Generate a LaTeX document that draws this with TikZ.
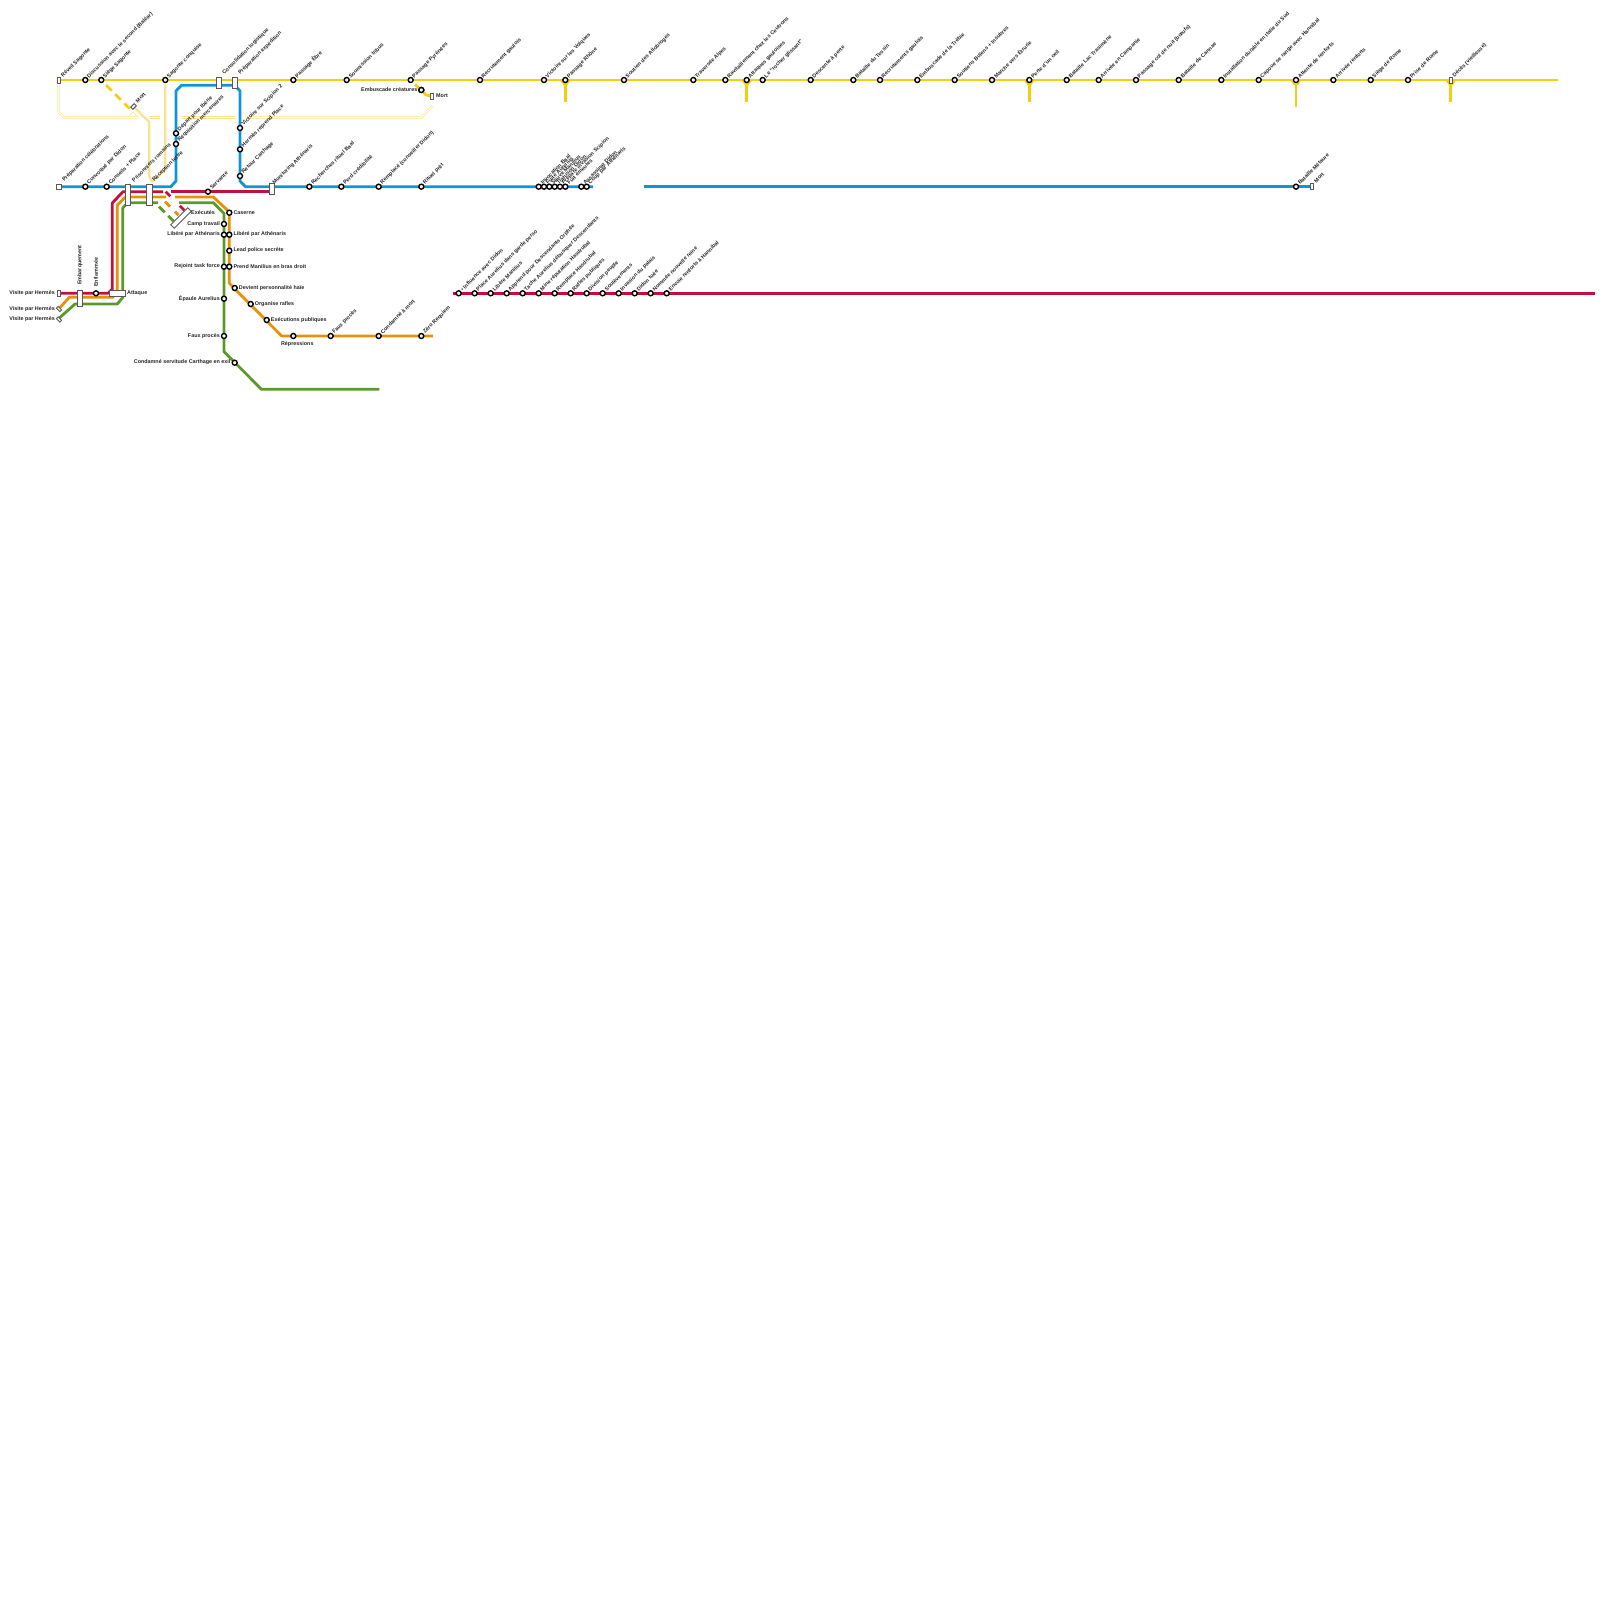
\documentclass[tikz,border=0pt]{standalone}
\usepackage{fontspec}
\setmainfont{Liberation Sans}
\usetikzlibrary{positioning}

\definecolor{lineyellow}{HTML}{F5CF0F}
\definecolor{lineblue}{HTML}{0F95D6}
\definecolor{linered}{HTML}{C20F3F}
\definecolor{lineorange}{HTML}{E8900A}
\definecolor{linegreen}{HTML}{5A9A28}
\definecolor{linepale}{HTML}{F8E48E}

\tikzset{
	x=1pt, y=-1pt,
	track/.style={line width=2.8pt, line join=round},
	ghost/.style={line width=2.2pt, color=linepale, line join=round},
	ghostdouble/.style={line width=0.7pt, color=linepale, double=white, double distance=1.1pt, line join=round},
	stop/.style={circle, draw=black, fill=white, line width=1.4pt, inner sep=0pt, minimum size=5pt},
	hub/.style={rectangle, draw=black!65, fill=white, line width=0.9pt, inner sep=0pt},
	tag/.style={font=\fontsize{5.4}{5.4}\selectfont\bfseries, text=black!85, inner sep=0pt},
	tagup/.style={tag, anchor=west, rotate=45},
}

\begin{document}
\begin{tikzpicture}

	\useasboundingbox (0,0) rectangle (1600,1600);

	% --- Named points of the tracks ---
	\foreach \name/\x/\y in {
		yA/58.7/80, yB/1558/80, yC/106/85, yD/129.5/108.5,
		yE/415/84.5, yF/426/95, sA/565.3/102, sB/746.7/102, sC/1029.3/102, sD/1296/107, sE/1450.7/102,
		pA/135/108, pB/149.3/122, pC/149.3/176, pD/152/182, pE/165.3/85, pF/165.3/170,
		dA/58.7/85, dB/58.7/112, dC/64/117.3, dD/138/117.3, dE/150/117.3, dF/160/117.3,
		dG/181.5/117.3, dH/234.5/117.3, dI/245/117.3, dJ/421.7/117.3, dK/432.5/106, dL/128/117.3, dM/133/112,
		bA/58.7/186.7, bB/170.7/186.7, bC/176/181, bD/176/91, bE/181.5/85.3, bF/234.7/85.3, bG/240/91,
		bH/240/181, bI/245.5/186.7, bJ/593/186.7, bK/644/186.7,
		rA/60/293.3, rB/108/293.3, rC/112.3/289, rD/112.3/203, rE/123/191.7, rF/163/191.7, rG/171/191.7,
		rH/452.7/293.3, rI/1595/293.3, rJ/165.7/191.7, rK/184.5/210.5,
		oA/59.3/308.3, oB/69.3/297.3, oC/112.5/297.3, oD/117.3/293, oE/117.3/205, oF/125.5/196.9, oG/166/196.9,
		oH/175/196.9, oI/213.3/196.9, oJ/229.3/212, oK/229.3/283.3, oL/281.7/336, oM/433/336, oN/165/201.7, oO/178.5/215.2,
		gA/59/318.3, gB/75/304, gC/117.3/304, gD/122.7/297.5, gE/122.7/208, gF/128/202.7, gG/158/202.7,
		gH/179/202.7, gI/213.3/202.7, gJ/224/213.5, gK/224/351.7, gL/261.5/389.3, gM/379.3/389.3, gN/159/206.7, gO/173.5/221.2
	}{
		\coordinate (\name) at (\x,\y);
	}

	% --- Faded Tracks ---
	\draw[ghost] (pA) -- (pB) -- (pC) -- (pD);
	\draw[ghost] (pE) -- (pF) -- (pD);
	\draw[ghostdouble] (dA) -- (dB) -- (dC) -- (dD);
	\draw[ghostdouble] (dE) -- (dF);
	\draw[ghostdouble] (dG) -- (dH);
	\draw[ghostdouble] (dI) -- (dJ) -- (dK);
	\draw[line width=0.6pt, color=linepale] (dL) -- (dM) -- (dD);

	% --- Yellow Line ---
	\draw[track, color=lineyellow] (yA) -- (yB);
	\draw[track, color=lineyellow, dash pattern=on 8pt off 5pt] (yC) -- (yD);
	\foreach \spur/\x in {sA/565.3, sB/746.7, sC/1029.3, sD/1296, sE/1450.7} {
		\coordinate (\spur top) at (\x,80);
		\draw[track, color=lineyellow] (\spur top) -- (\spur);
		\fill[color=lineyellow] (\x-5,81) -- (\x+5,81) -- (\x+1,86) -- (\x-1,86) -- cycle;
	}

	% --- Blue Line ---
	\draw[track, color=lineblue] (bA) -- (bB) -- (bC) -- (bD) -- (bE) -- (bF) -- (bG) -- (bH) -- (bI) -- (bJ);
	\node[coordinate] (blueEnd) at (1312,186.7) {};
	\draw[track, color=lineblue] (bK) -- (blueEnd);

	% --- Red Line ---
	\draw[track, color=linered] (rA) -- (rB) -- (rC) -- (rD) -- (rE) -- (rF);
	\node[coordinate] (redEnd) at (272,191.7) {};
	\draw[track, color=linered] (rG) -- (redEnd);
	\draw[track, color=linered] (rH) -- (rI);
	\draw[track, color=linered, dash pattern=on 6.5pt off 13.5pt] (rJ) -- (rK);

	% --- Orange Line ---
	\draw[track, color=lineorange] (oA) -- (oB) -- (oC) -- (oD) -- (oE) -- (oF) -- (oG);
	\draw[track, color=lineorange] (oH) -- (oI) -- (oJ) -- (oK) -- (oL) -- (oM);
	\draw[track, color=lineorange, dash pattern=on 7pt off 7pt] (oN) -- (oO);

	% --- Green Line ---
	\draw[track, color=linegreen] (gA) -- (gB) -- (gC) -- (gD) -- (gE) -- (gF) -- (gG);
	\draw[track, color=linegreen] (gH) -- (gI) -- (gJ) -- (gK) -- (gL) -- (gM);
	\draw[track, color=linegreen, dash pattern=on 8pt off 5pt] (gN) -- (gO);

	% --- Hubs and Terminals ---
	\node[hub, minimum width=2.6pt, minimum height=6pt] (reveil) at (58.7,80) {};
	\node[hub, minimum width=5.5pt, minimum height=11pt] (consolidation) at (218.7,82.5) {};
	\node[hub, minimum width=5.5pt, minimum height=11pt] (preparation) at (234.7,82.5) {};
	\node[hub, minimum width=5pt, minimum height=3pt, rotate=45] (mortA) at (133.5,106.5) {};
	\node[hub, minimum width=3pt, minimum height=6pt] (mortB) at (432,96) {};
	\node[stop] (embuscade) at (421.3,90) {};
	\draw[track, color=lineyellow] (yE) -- (embuscade);
	\draw[track, color=lineyellow] (embuscade) -- (yF) -- (mortB);
	\node[stop] (embuscade) at (421.3,90) {};
	\node[hub, minimum width=2.6pt, minimum height=6pt] (deces) at (1450.7,80) {};
	\node[hub, minimum width=5pt, minimum height=5pt] (celebrations) at (58.7,186.7) {};
	\node[hub, minimum width=5.5pt, minimum height=21.5pt] (prisonniers) at (128,195) {};
	\node[hub, minimum width=5.5pt, minimum height=21.5pt] (reception) at (149.3,195) {};
	\node[hub, minimum width=5pt, minimum height=11pt] (monitoring) at (272,189.3) {};
	\node[hub, minimum width=2.6pt, minimum height=6pt] (mortC) at (1312,186.7) {};
	\node[hub, minimum width=24pt, minimum height=5pt, rotate=45] (executes) at (181,218) {};
	\node[hub, minimum width=2.6pt, minimum height=6pt] (visiteA) at (58.7,293.3) {};
	\node[hub, minimum width=2.6pt, minimum height=5pt, rotate=45] (visiteB) at (59,309) {};
	\node[hub, minimum width=2.6pt, minimum height=5pt, rotate=45] (visiteC) at (59,319.5) {};
	\node[hub, minimum width=5.5pt, minimum height=16.5pt] (embarquement) at (80,298.5) {};
	\node[hub, minimum width=16pt, minimum height=5.5pt] (attaque) at (117.3,293.3) {};

	% --- Stations, Yellow ---
	\foreach \x/\label in {85.3/Discussion avec le second (Baléar), 101.3/Siège Sagonte, 165.3/Sagonte conquise,
		293.3/Passage Èbre, 346.7/Soumission tribus, 410.7/Passage Pyrénées, 480/Recrutement gaulois,
		544/Victoire sur les Volques, 565.3/Passage Rhône, 624/Soutien des Allobroges, 693.3/Traversée Alpes,
		725.3/Ravitaillement chez les Ceutrons, 746.7/Attaques gauloises, 762.7/Le ``rocher glissant'',
		810.7/Descente à perte, 853.3/Bataille du Tessin, 880/Recrutements gaulois, 917.3/Embuscade de la Trébie,
		954.7/Soutiens Boïens + Insubres, 992/Marche vers Étrurie, 1029.3/Perte d'un oeil, 1066.7/Bataille Lac Trasimène,
		1098.7/Arrivée en Campanie, 1136/Passage col de nuit (bœufs), 1178.7/Bataille de Cannae,
		1221.3/Installation durable en Italie du Sud, 1258.7/Capoue se range avec Hannibal, 1296/Attente de renforts,
		1333.3/Arrivée renforts, 1370.7/Siège de Rome, 1408/Prise de Rome} {
		\node[stop] (y\x) at (\x,80) {};
		\node[tagup] (yt\x) at (\x+2.6,77.4) {\label};
	}
	\foreach \x/\y/\label in {62/76.5/Réveil Sagonte, 223.3/74/Consolidation logistique, 239.3/74/Préparation expédition,
		1453.5/76.5/Décès (vieillesse), 136.5/102/Mort, 1315/182/Mort, 63.3/181/Préparation célébrations,
		273.5/184/Monitoring Athénaris, 132.7/181/Prisonniers romains, 153.3/181/Réception lettre} {
		\node[tagup] (ht\x) at (\x,\y) {\label};
	}

	% --- Stations, Blue ---
	\foreach \x/\label in {85.3/Convoqué par Didon, 106.7/Conseils + Place, 309.3/Recherches rituel Baal, 341.3/Perd crédibilité,
		378.7/Remplacé (conseiller Didon), 421.3/Rituel prêt, 538.7/Invocation Baal, 544/Fuite Aurelius, 549.3/Sauve Manilius,
		554.7/Trahison Didon, 560/Prépare invasion Scipion, 565.3/Fuit émeutes, 581.3/Assassinat Didon,
		586.7/Coup par Athénaris, 1296/Bataille Métaure} {
		\node[stop] (b\x) at (\x,186.7) {};
		\node[tagup] (bt\x) at (\x+2.6,183.7) {\label};
	}
	\foreach \y/\label in {133.3/Départ pour Ibérie, 144/Réquisition mercenaires} {
		\node[stop] (bv\y) at (176,\y) {};
		\node[tagup] (bvt\y) at (178.6,\y-3) {\label};
	}
	\foreach \y/\label in {128/Victoire sur Scipion 2, 149.3/Hermès reprend Place, 176/Retour Carthage} {
		\node[stop] (bw\y) at (240,\y) {};
		\node[tagup] (bwt\y) at (242.6,\y-3) {\label};
	}

	% --- Stations, Red ---
	\node[stop] (servante) at (208,191.7) {};
	\node[tagup] (servanteTag) at (210.6,188.7) {Servante};
	\foreach \x/\label in {458.7/• Influence avec Didon, 474.7/Place Aurelius dans garde perso, 490.7/Libère Manilius,
		506.7/Apprend pour Descendants Orphée, 522.7/Tache Aurelius débusquer Descendants, 538.7/Mine réputation Hasdrubal,
		554.7/Remplace Hasdrubal, 570.7/Rafles publiques, 586.7/Division peuple, 602.7/Soulèvements, 618.7/Invasion du palais,
		634.7/Didon tuée, 650.7/Nommée nouvelle reine, 666.7/Envoie renforts à Hannibal} {
		\node[stop] (r\x) at (\x,293.3) {};
		\node[tagup] (rt\x) at (\x+2.6,290.3) {\label};
	}
	\node[stop] (enflammee) at (96,293.3) {};
	\node[tag, anchor=west, rotate=90] (enflammeeTag) at (96,287) {Enflammée};
	\node[tag, anchor=west, rotate=90] (embarquementTag) at (80,285) {Embarquement};

	% --- Stations, Orange ---
	\foreach \x/\y/\label in {229.3/212.7/Caserne, 229.3/234.7/Libéré par Athénaris, 229.3/250.7/Lead police secrète,
		229.3/266.7/Prend Manilius en bras droit, 234.7/288/Devient personnalité haïe, 250.7/304/Organise rafles,
		266.7/320/Exécutions publiques} {
		\node[stop] (o\y) at (\x,\y) {};
		\node[tag, anchor=west] (ot\y) at (\x+4,\y-0.3) {\label};
	}
	\foreach \x/\label in {330.7/Faux procès, 378.7/Condamné à mort, 421.3/Zéro Requiem} {
		\node[stop] (ob\x) at (\x,336) {};
		\node[tagup] (obt\x) at (\x+2.6,333) {\label};
	}
	\node[stop] (repressions) at (293.3,336) {};
	\node[tag, below=2pt of repressions, xshift=4pt] (repressionsTag) {Répressions};

	% --- Stations, Green ---
	\foreach \x/\y/\label in {224/224/Camp travail, 224/234.7/Libéré par Athénaris, 224/266.7/Rejoint task force,
		224/298.7/Épaule Aurelius, 224/336/Faux procès, 234.7/362.7/Condamné servitude Carthage en exil} {
		\node[stop] (g\y) at (\x,\y) {};
		\node[tag, anchor=east] (gt\y) at (\x-4,\y-0.3) {\label};
	}

	% --- Remaining Labels ---
	\node[tag, anchor=east] (embuscadeTag) at (417.5,90) {Embuscade créatures};
	\node[tag, anchor=west] (mortTag) at (436,95.5) {Mort};
	\node[tag, anchor=west] (executesTag) at (191,212.5) {Exécutés};
	\node[tag, anchor=west] (attaqueTag) at (127,293) {Attaque};
	\foreach \y/\name in {292.7/hA, 308.7/hB, 319.2/hC} {
		\node[tag, anchor=east] (\name) at (55,\y) {Visite par Hermès};
	}

\end{tikzpicture}
\end{document}
